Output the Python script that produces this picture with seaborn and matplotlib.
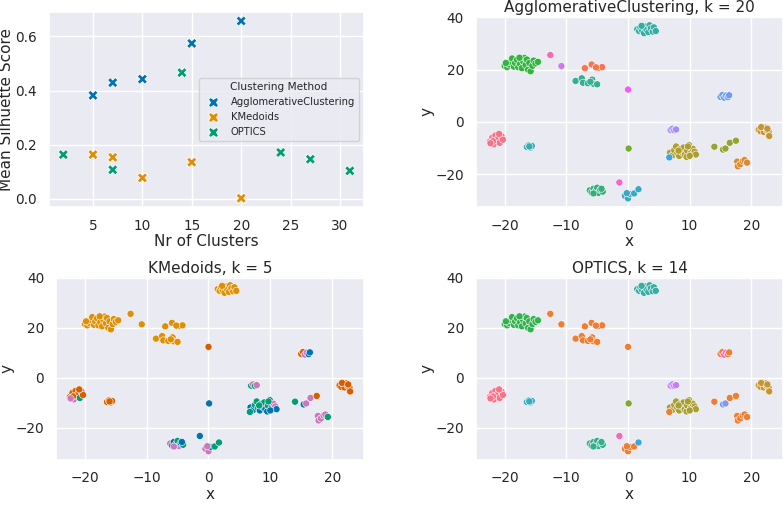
import pandas as pd
import seaborn as sns
import matplotlib.pyplot as plt

# silhouette scores per method
agg_k = [5, 7, 10, 15, 20]
agg_score = [0.382, 0.429, 0.442, 0.574, 0.657]
kmed_k = [5, 7, 10, 15, 20]
kmed_score = [0.163, 0.153, 0.077, 0.135, 0.002]
optics_k = [2, 7, 14, 24, 27, 31]
optics_score = [0.163, 0.107, 0.466, 0.171, 0.146, 0.103]

# embedded points (x, y) and cluster labels for each method
x_pts = [
    # big green cluster
    -20.0, -19.6, -19.3, -19.0, -18.8, -18.5, -18.3, -18.0, -17.8, -17.5, -17.2, -17.0,
    -16.8, -16.6, -16.4, -16.2, -16.0, -15.8, -15.5, -15.3, -15.0, -14.6, -19.8, -17.6,
    # singles upper left
    -12.6, -10.8,
    # orange group
    -7.0, -5.9, -4.8, -4.2, -5.2,
    # teal group
    -8.5, -7.5, -7.3, -6.5, -5.8, -5.6, -6.1, -5.0,
    # single
    0.0,
    # top cluster
    1.5, 1.8, 2.0, 2.3, 2.6, 2.8, 3.0, 3.3, 3.5, 3.7, 4.0, 4.2, 4.5, 2.2,
    # right upper
    15.0, 15.3, 15.6, 15.9, 16.2, 16.4,
    # lavender
    6.9, 7.2, 7.5, 7.8,
    # salmon left
    -22.4, -22.0, -21.8, -21.5, -21.3, -21.0, -20.8, -20.5, -20.3, -21.9, -20.9, -22.3,
    # cyan left
    -16.4, -16.1, -15.8, -15.6, -16.0,
    # single
    0.1,
    # olive big
    6.8, 7.2, 7.5, 7.8, 8.0, 8.3, 8.5, 8.8, 9.0, 9.2, 9.5, 9.6, 9.9, 10.2, 10.5, 10.8,
    11.0, 8.2, 9.7, 10.0,
    # single
    6.7,
    # spread points
    14.0, 15.4, 15.8, 16.5, 17.5,
    # gold
    21.2, 21.5, 21.8, 22.0, 22.3, 22.5, 22.8, 22.9, 21.6, 22.6,
    # orange lower right
    17.7, 17.8, 18.2, 18.6, 18.9, 19.3,
    # green bottom
    -6.2, -5.9, -5.6, -5.3, -5.0, -4.8, -4.5, -4.1, -5.6, -4.3,
    # cyan bottom
    -0.5, 0.0, 0.3, 1.0, 1.7, -0.2,
    # single
    -1.4,
]
y_pts = [
    21.5, 21.0, 22.0, 23.0, 24.3, 21.2, 22.6, 23.8, 21.0, 22.2, 20.6, 23.2,
    24.5, 21.8, 23.9, 20.0, 22.6, 19.4, 21.5, 23.5, 22.4, 23.0, 22.6, 24.6,
    25.6, 21.4,
    20.6, 22.0, 20.7, 21.0, 20.9,
    15.7, 16.7, 15.0, 14.8, 16.2, 14.6, 15.4, 14.4,
    12.4,
    35.5, 34.8, 36.2, 35.0, 34.0, 36.5, 35.4, 34.4, 37.0, 35.8, 34.6, 36.2, 34.8, 36.8,
    9.6, 10.3, 9.3, 10.1, 9.5, 10.2,
    -3.1, -2.6, -3.2, -2.9,
    -7.6, -6.0, -8.6, -5.2, -7.0, -6.0, -8.0, -5.5, -6.8, -7.4, -4.6, -8.2,
    -9.6, -9.0, -9.8, -9.2, -9.4,
    -10.2,
    -11.8, -12.8, -10.8, -9.4, -12.0, -13.0, -10.4, -11.6, -9.8, -12.6, -13.4, -11.0,
    -8.9, -12.0, -10.3, -11.4, -12.5, -11.0, -9.4, -13.0,
    -13.6,
    -9.5, -10.6, -10.2, -8.0, -7.2,
    -3.0, -3.6, -2.4, -3.8, -2.2, -3.2, -3.8, -5.4, -2.0, -2.6,
    -15.2, -17.0, -16.2, -15.0, -14.6, -15.6,
    -26.2, -27.0, -25.6, -26.6, -25.2, -27.2, -26.0, -26.7, -27.4, -25.6,
    -28.3, -29.3, -27.6, -27.4, -25.8, -27.3,
    -23.2,
]
agg_labels = (
    [7] * 24 + [19, 16] + [1] * 5 + [9] * 8 + [17] + [10] * 14 + [14] * 6 + [15] * 4
    + [0] * 12 + [11] * 5 + [6] + [4] * 20 + [13] + [5] * 5 + [3] * 10 + [2] * 6
    + [8] * 10 + [12] * 6 + [18]
)
kmed_labels = (
    [1] * 24 + [1, 1] + [1] * 5 + [1] * 8 + [3] + [1] * 14 + [3, 3, 4, 4, 0, 0]
    + [2, 4, 2, 4] + [3, 3, 4, 3, 3, 3, 2, 4, 3, 3, 3, 4] + [3] * 5 + [0]
    + [0, 0, 2, 2, 2, 0, 2, 0, 2, 0, 0, 2, 0, 0, 4, 4, 0, 2, 2, 0] + [2]
    + [2, 0, 4, 4, 3] + [3] * 10 + [4, 4, 4, 4, 4, 2]
    + [4, 2, 0, 0, 2, 4, 0, 2, 4, 0] + [4, 4, 0, 2, 2, 4] + [0]
)
optics_labels = (
    [5] * 24 + [1, 1] + [1] * 5 + [1] * 8 + [1] + [7] * 14 + [1, 1, 12, 12, 1, 1]
    + [11] * 4 + [0] * 12 + [8] * 5 + [4] + [3] * 20 + [1] + [1, 10, 10, 1, 1]
    + [2] * 10 + [1] * 6 + [6] * 10 + [1, 1, 1, 1, 9, 1] + [13]
)

scores = pd.DataFrame({
    "Nr of Clusters": agg_k + kmed_k + optics_k,
    "Mean Silhuette Score": agg_score + kmed_score + optics_score,
    "Clustering Method": ["AgglomerativeClustering"] * len(agg_k)
    + ["KMedoids"] * len(kmed_k) + ["OPTICS"] * len(optics_k),
})
pts = pd.DataFrame({"x": x_pts, "y": y_pts, "agg": agg_labels,
                    "kmed": kmed_labels, "optics": optics_labels})

sns.set_theme(style="darkgrid", palette="colorblind",
              rc={"xtick.labelsize": 9.8, "ytick.labelsize": 9.8,
                  "axes.labelsize": 11, "axes.titlesize": 11,
                  "axes.labelpad": 1.0, "axes.titlepad": 3,
                  "xtick.major.pad": 2.5, "ytick.major.pad": 2.5})

fig = plt.figure(figsize=(7.84, 5.05), dpi=100)
ax0 = fig.add_axes([0.0625, 0.590, 0.402, 0.386])
ax1 = fig.add_axes([0.607, 0.590, 0.392, 0.377])
ax2 = fig.add_axes([0.0714, 0.090, 0.393, 0.3615])
ax3 = fig.add_axes([0.607, 0.090, 0.392, 0.3615])

sns.scatterplot(data=scores, x="Nr of Clusters", y="Mean Silhuette Score",
                hue="Clustering Method", marker="X", s=55, ax=ax0)
ax0.legend(title="Clustering Method", loc="center right", fontsize=7.2,
           title_fontsize=7.6)

panels = [(ax1, "agg", 20, "AgglomerativeClustering, k = 20"),
          (ax2, "kmed", 5, "KMedoids, k = 5"),
          (ax3, "optics", 14, "OPTICS, k = 14")]
for ax, col, n, title in panels:
    if n <= 10:
        pal = sns.color_palette("colorblind", n)
    else:
        pal = sns.husl_palette(n)
    sns.scatterplot(data=pts, x="x", y="y", hue=col, palette=pal, s=26,
                    legend=False, ax=ax)
    ax.set_title(title)

fig.savefig("out.png", dpi=100)
